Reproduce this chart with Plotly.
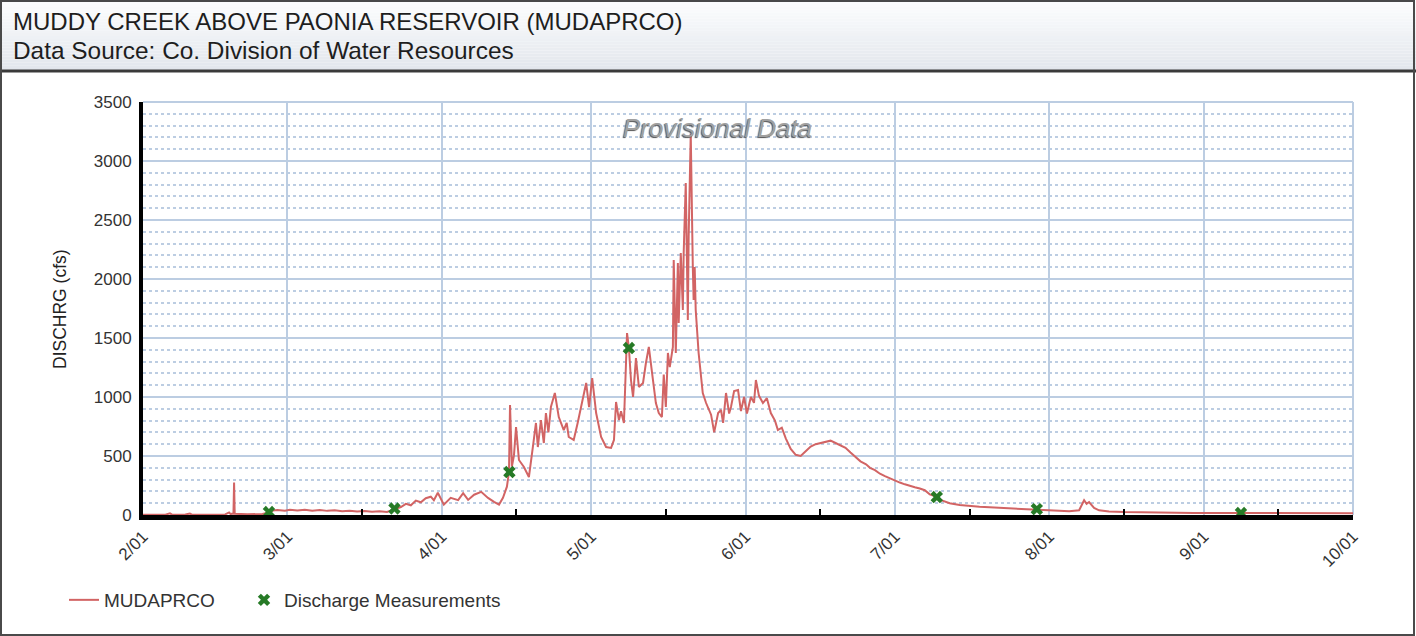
import plotly.graph_objects as go

# ---------------- data ----------------
flow_times = [
    "2020-02-01 00:00", "2020-02-03 00:00", "2020-02-05 12:00", "2020-02-06 10:00", "2020-02-06 20:00",
    "2020-02-09 12:00", "2020-02-10 10:00", "2020-02-10 20:00", "2020-02-14 00:00", "2020-02-17 12:00",
    "2020-02-18 07:00", "2020-02-18 14:00", "2020-02-19 04:00", "2020-02-19 07:00", "2020-02-19 10:00",
    "2020-02-22 00:00", "2020-02-25 00:00", "2020-02-25 18:00", "2020-02-26 12:00", "2020-02-27 02:00",
    "2020-02-28 00:00", "2020-02-29 12:00",
    "2020-03-01 12:00", "2020-03-03 00:00", "2020-03-04 12:00", "2020-03-06 00:00", "2020-03-07 12:00",
    "2020-03-09 00:00", "2020-03-10 12:00", "2020-03-12 00:00", "2020-03-13 12:00", "2020-03-15 00:00",
    "2020-03-16 12:00", "2020-03-18 00:00", "2020-03-19 12:00", "2020-03-21 00:00", "2020-03-22 00:00",
    "2020-03-22 12:00", "2020-03-23 19:00", "2020-03-24 19:00", "2020-03-25 19:00", "2020-03-26 19:00",
    "2020-03-27 19:00", "2020-03-28 19:00", "2020-03-29 19:00", "2020-03-30 10:00", "2020-03-31 05:00",
    "2020-04-01 10:00", "2020-04-02 19:00", "2020-04-04 07:00", "2020-04-05 07:00", "2020-04-06 07:00",
    "2020-04-07 12:00", "2020-04-08 22:00", "2020-04-10 07:00", "2020-04-11 12:00", "2020-04-12 12:00",
    "2020-04-13 07:00", "2020-04-14 02:00", "2020-04-14 12:00", "2020-04-14 17:00", "2020-04-15 02:00",
    "2020-04-15 12:00", "2020-04-15 22:00", "2020-04-16 12:00", "2020-04-17 12:00", "2020-04-18 12:00",
    "2020-04-19 07:00", "2020-04-19 22:00", "2020-04-20 07:00", "2020-04-20 22:00", "2020-04-21 12:00",
    "2020-04-21 22:00", "2020-04-22 10:00", "2020-04-22 22:00", "2020-04-23 17:00", "2020-04-24 12:00",
    "2020-04-25 12:00", "2020-04-26 02:00", "2020-04-26 12:00", "2020-04-27 12:00", "2020-04-28 07:00",
    "2020-04-29 10:00", "2020-04-30 00:00", "2020-04-30 14:00",
    "2020-05-01 05:00", "2020-05-02 00:00", "2020-05-03 00:00", "2020-05-04 00:00", "2020-05-05 00:00",
    "2020-05-05 14:00", "2020-05-06 00:00", "2020-05-06 14:00", "2020-05-07 00:00", "2020-05-07 14:00",
    "2020-05-08 05:00", "2020-05-08 14:00", "2020-05-09 00:00", "2020-05-09 10:00", "2020-05-10 00:00",
    "2020-05-10 14:00", "2020-05-11 10:00", "2020-05-12 00:00", "2020-05-12 14:00", "2020-05-13 10:00",
    "2020-05-14 00:00", "2020-05-14 14:00", "2020-05-15 05:00", "2020-05-15 14:00", "2020-05-16 00:00",
    "2020-05-16 10:00", "2020-05-16 19:00", "2020-05-17 10:00", "2020-05-17 14:00", "2020-05-18 00:00",
    "2020-05-18 10:00", "2020-05-18 14:00", "2020-05-19 00:00", "2020-05-19 10:00", "2020-05-19 14:00",
    "2020-05-20 00:00", "2020-05-20 10:00", "2020-05-20 14:00", "2020-05-21 00:00", "2020-05-21 10:00",
    "2020-05-21 14:00", "2020-05-21 19:00", "2020-05-22 00:00", "2020-05-22 14:00", "2020-05-23 10:00",
    "2020-05-24 02:00", "2020-05-25 02:00", "2020-05-25 17:00", "2020-05-26 12:00", "2020-05-27 02:00",
    "2020-05-27 12:00", "2020-05-28 02:00", "2020-05-28 17:00", "2020-05-29 02:00", "2020-05-29 17:00",
    "2020-05-30 12:00", "2020-05-31 02:00", "2020-05-31 17:00",
    "2020-06-01 07:00", "2020-06-02 02:00", "2020-06-02 17:00", "2020-06-03 02:00", "2020-06-03 17:00",
    "2020-06-04 12:00", "2020-06-05 07:00", "2020-06-06 02:00", "2020-06-06 22:00", "2020-06-07 12:00",
    "2020-06-08 07:00", "2020-06-09 02:00", "2020-06-10 02:00", "2020-06-11 02:00", "2020-06-12 02:00",
    "2020-06-13 02:00", "2020-06-14 02:00", "2020-06-15 02:00", "2020-06-16 02:00", "2020-06-17 02:00",
    "2020-06-18 02:00", "2020-06-19 02:00", "2020-06-20 02:00", "2020-06-21 02:00", "2020-06-22 02:00",
    "2020-06-23 02:00", "2020-06-24 02:00", "2020-06-25 05:00", "2020-06-26 00:00", "2020-06-27 00:00",
    "2020-06-28 00:00", "2020-06-29 00:00", "2020-06-30 00:00",
    "2020-07-01 00:00", "2020-07-02 00:00", "2020-07-03 00:00", "2020-07-04 00:00", "2020-07-05 00:00",
    "2020-07-06 00:00", "2020-07-07 00:00", "2020-07-08 00:00", "2020-07-09 00:00", "2020-07-10 00:00",
    "2020-07-11 00:00", "2020-07-12 00:00", "2020-07-14 00:00", "2020-07-16 00:00", "2020-07-18 00:00",
    "2020-07-20 00:00", "2020-07-22 00:00", "2020-07-24 00:00", "2020-07-26 00:00", "2020-07-28 00:00",
    "2020-07-30 00:00",
    "2020-08-01 00:00", "2020-08-03 00:00", "2020-08-05 00:00", "2020-08-07 00:00", "2020-08-08 00:00",
    "2020-08-08 12:00", "2020-08-09 00:00", "2020-08-10 00:00", "2020-08-11 00:00", "2020-08-13 00:00",
    "2020-08-16 00:00", "2020-08-20 00:00", "2020-08-25 00:00", "2020-08-30 00:00",
    "2020-09-05 00:00", "2020-09-10 00:00", "2020-09-15 00:00", "2020-09-20 00:00", "2020-09-25 00:00",
    "2020-10-01 00:00",
]
flow_cfs = [
    3, 4, 3, 14, 3,
    4, 12, 3, 4, 5,
    22, 8, 12, 275, 10,
    6, 9, 16, 24, 38,
    42, 37,
    44, 38, 45, 37, 42,
    35, 40, 32, 36, 30,
    33, 27, 31, 26, 40,
    52, 68, 95, 82, 122,
    108, 142, 155, 125, 188,
    88, 146, 126, 185, 128,
    172, 196, 145, 112, 88,
    146, 240, 365, 932, 410,
    505, 746, 466, 407, 322,
    576, 780, 576, 805, 610,
    864, 700, 915, 1034, 830,
    720, 780, 661, 636, 780,
    1000, 1119, 915,
    1161, 864, 661, 576, 568,
    636, 958, 805, 880, 780,
    1542, 1415, 1144, 1000, 1330,
    1085, 1119, 1288, 1424, 1144,
    949, 864, 830, 1190, 915,
    1373, 1254, 1424, 2161, 1373,
    2135, 1627, 2220, 1737, 2220,
    2813, 1652, 2356, 3230, 2102,
    1822, 2102, 1737, 1373, 1034,
    949, 850, 700, 864, 890,
    780, 1034, 860, 915, 1050,
    1059, 880, 1000,
    860, 1000, 950, 1144, 1010,
    949, 990, 864, 800, 720,
    740, 650, 560, 510, 500,
    540, 580, 600, 610, 625,
    630, 610, 590, 570, 530,
    490, 455, 430, 400, 380,
    350, 330, 310,
    290, 275, 260, 245, 235,
    225, 210, 175, 160, 130,
    115, 100, 85, 75, 70,
    65, 60, 55, 52, 48,
    45,
    40, 35, 32, 40, 125,
    95, 110, 60, 40, 30,
    25, 22, 20, 18,
    18, 17, 16, 16, 15,
    15,
]

meas_times = ["2020-02-26 07:00", "2020-03-22 12:00", "2020-04-14 14:00", "2020-05-08 14:00",
              "2020-07-09 10:00", "2020-07-29 12:00", "2020-09-08 12:00"]
meas_cfs = [25, 55, 364, 1415, 152, 50, 17]

month_ticks = ["2020-02-01", "2020-03-01", "2020-04-01", "2020-05-01", "2020-06-01",
               "2020-07-01", "2020-08-01", "2020-09-01", "2020-10-01"]
month_labels = ["2/01", "3/01", "4/01", "5/01", "6/01", "7/01", "8/01", "9/01", "10/01"]
mid_month_ticks = ["2020-03-16", "2020-04-16", "2020-05-16", "2020-06-16",
                   "2020-07-16", "2020-08-16", "2020-09-16"]

series_name = "MUDAPRCO"
meas_name = "Discharge Measurements"
title_text = "MUDDY CREEK ABOVE PAONIA RESERVOIR (MUDAPRCO)"
subtitle_text = "Data Source: Co. Division of Water Resources"
y_title = "DISCHRG (cfs)"
watermark = "Provisional Data"

# ---------------- layout helpers ----------------
W, H = 1416, 636
L, R, T, B = 143, 63, 102, 121
PW, PH = W - L - R, H - T - B


def fx(px):
    return (px - L) / PW


def fy(py):
    return (H - B - py) / PH


FONT = "Liberation Sans, Arial, sans-serif"
GRID = "#bccde2"

fig = go.Figure()
fig.add_trace(go.Scatter(
    x=flow_times, y=flow_cfs, mode="lines", name=series_name,
    line=dict(color="#d26464", width=2), legend="legend",
))
fig.add_trace(go.Scatter(
    x=meas_times, y=meas_cfs, mode="markers", name=meas_name,
    marker=dict(symbol="x", size=11, color="#267a26", line=dict(width=0)),
    legend="legend2",
))

shapes = []
# header gradient band
N = 24
top_c = (252, 253, 254)
bot_c = (226, 230, 236)
for i in range(N):
    t = i / (N - 1)
    c = tuple(int(round(top_c[k] + (bot_c[k] - top_c[k]) * t)) for k in range(3))
    y0 = 1 + i * 70 / N
    y1 = 1 + (i + 1) * 70 / N
    shapes.append(dict(type="rect", xref="paper", yref="paper",
                       x0=fx(0), x1=fx(W), y0=fy(y1), y1=fy(y0),
                       fillcolor="rgb(%d,%d,%d)" % c, line=dict(width=0), layer="below"))
# header bottom rule
shapes.append(dict(type="line", xref="paper", yref="paper", x0=fx(0), x1=fx(W),
                   y0=fy(71), y1=fy(71), line=dict(color="#3a3a3a", width=3)))
# outer border
shapes.append(dict(type="rect", xref="paper", yref="paper", x0=fx(1), x1=fx(W - 2),
                   y0=fy(H - 1), y1=fy(1), line=dict(color="#4a4a4a", width=2)))
# plot area top / right frame in grid colour
shapes.append(dict(type="line", xref="paper", yref="paper", x0=0, x1=1, y0=1, y1=1,
                   line=dict(color=GRID, width=2), layer="below"))
shapes.append(dict(type="line", xref="paper", yref="paper", x0=1, x1=1, y0=0, y1=1,
                   line=dict(color=GRID, width=2), layer="below"))

annotations = [
    dict(text=title_text, x=fx(11), y=fy(22), xref="paper", yref="paper",
         xanchor="left", yanchor="middle", showarrow=False,
         font=dict(family=FONT, size=24, color="#1e1e1e")),
    dict(text=subtitle_text, x=fx(11), y=fy(50), xref="paper", yref="paper",
         xanchor="left", yanchor="middle", showarrow=False,
         font=dict(family=FONT, size=24.4, color="#1e1e1e")),
    dict(text="<i>" + watermark + "</i>", x=fx(717), y=fy(128), xref="paper", yref="paper",
         xanchor="center", yanchor="middle", showarrow=False,
         font=dict(family=FONT, size=26, color="#a0a0a0", shadow="-1px 1px 1px #555")),
    dict(text=y_title, x=fx(60), y=fy(309), xref="paper", yref="paper",
         xanchor="center", yanchor="middle", showarrow=False, textangle=-90,
         font=dict(family=FONT, size=17.5, color="#222")),
]

legend_font = dict(family=FONT, size=19, color="#333")

fig.update_layout(
    width=W, height=H,
    margin=dict(l=L, r=R, t=T, b=B, pad=0),
    paper_bgcolor="white", plot_bgcolor="white",
    font=dict(family=FONT, size=16, color="#333"),
    shapes=shapes, annotations=annotations,
    showlegend=True,
    legend=dict(orientation="h", x=fx(64), y=fy(600), xanchor="left", yanchor="middle",
                font=legend_font, bgcolor="rgba(0,0,0,0)", itemwidth=30),
    legend2=dict(orientation="h", x=fx(244), y=fy(600), xanchor="left", yanchor="middle",
                 font=legend_font, bgcolor="rgba(0,0,0,0)", itemwidth=30),
    xaxis=dict(
        type="date", range=["2020-02-01", "2020-10-01"],
        tickmode="array", tickvals=month_ticks, ticktext=month_labels, tickangle=-45,
        tickfont=dict(family=FONT, size=17, color="#333"),
        showgrid=True, gridcolor=GRID, gridwidth=2,
        showline=True, linecolor="black", linewidth=5,
        ticks="", zeroline=False,
        minor=dict(tickmode="array", tickvals=mid_month_ticks, ticks="inside",
                   ticklen=6, tickwidth=2, tickcolor="black", showgrid=False),
    ),
    yaxis=dict(
        range=[0, 3500], tick0=0, dtick=500,
        tickfont=dict(family=FONT, size=17, color="#333"),
        showgrid=True, gridcolor=GRID, gridwidth=2,
        showline=True, linecolor="black", linewidth=4,
        ticks="", zeroline=False, ticklabelstandoff=4,
        minor=dict(dtick=100, showgrid=True, griddash="dot", gridcolor=GRID, gridwidth=1.5),
    ),
)

fig.write_html("out.html", config={"displayModeBar": False},
               post_script="document.body.style.margin='0px';document.body.style.overflow='hidden';")
